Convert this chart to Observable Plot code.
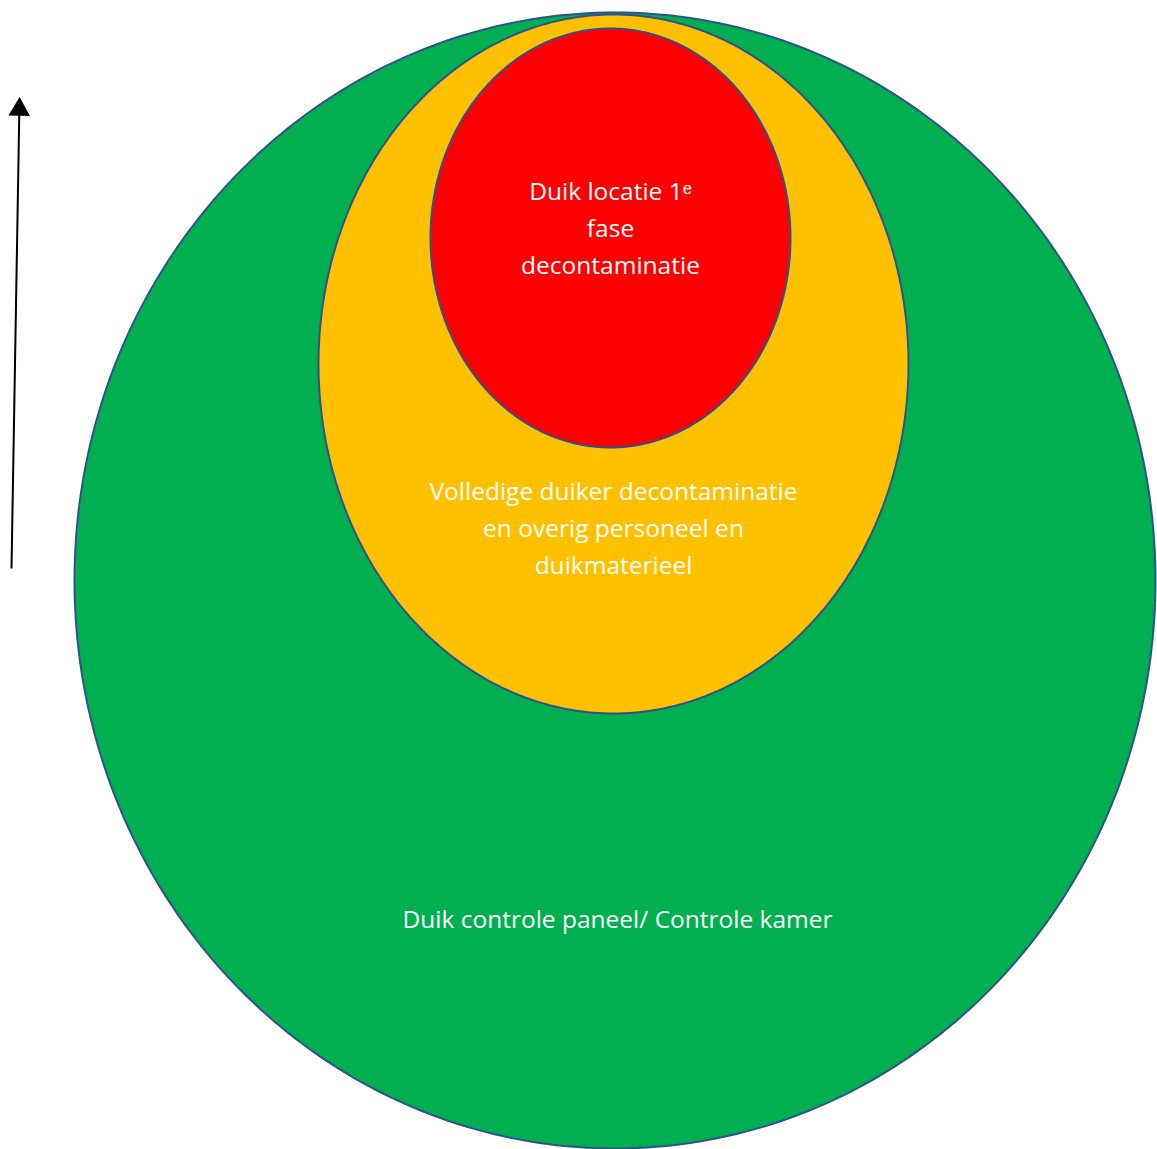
<!DOCTYPE html>
<html>
<head>
<meta charset="utf-8">
<script src="https://cdn.jsdelivr.net/npm/d3@7"></script>
<script src="https://cdn.jsdelivr.net/npm/@observablehq/plot@0.6"></script>
<style>
  html, body { margin: 0; padding: 0; background: #fff; }
  #chart svg { display: block; overflow: hidden; }
  #chart text { font-variant-ligatures: none; }
</style>
</head>
<body>
<div id="chart"></div>
<script>
// Zones (outer to inner)
const zoneNames = ["controle", "volledig", "locatie"];
const zoneLabels = [
  "Duik controle paneel/ Controle kamer",
  "Volledige duiker decontaminatie\nen overig personeel en\nduikmaterieel",
  "Duik locatie 1ᵉ\nfase\ndecontaminatie"
];
const zoneColors = ["#00B050", "#FFC000", "#FF0000"];
// ellipse geometry in picture units: centre x, centre y, radius x, radius y
const zoneCx = [614.5, 613, 610];
const zoneCy = [580, 363.5, 237.5];
const zoneRx = [540.5, 295, 180];
const zoneRy = [568, 349.5, 209.5];
// label anchor (middle line) per zone
const labelX = [617, 613, 610];
const labelY = [916, 525, 225];
// arrow (importance direction)
const arrowFrom = [11, 568];
const arrowTo = [19, 100];

const W = 1157, H = 1149;

const outline = [];
zoneNames.forEach((z, i) => {
  const n = 360;
  for (let k = 0; k < n; k++) {
    const t = (2 * Math.PI * k) / n;
    outline.push({zone: z, x: zoneCx[i] + zoneRx[i] * Math.cos(t), y: zoneCy[i] + zoneRy[i] * Math.sin(t)});
  }
});

const labels = zoneNames.map((z, i) => ({zone: z, text: zoneLabels[i], x: labelX[i], y: labelY[i]}));

// arrow head: filled triangle just below the tip, oriented along the shaft
const dx = arrowTo[0] - arrowFrom[0], dy = arrowTo[1] - arrowFrom[1];
const len = Math.hypot(dx, dy);
const headBack = 9;
const head = [{x: arrowTo[0] - dx / len * headBack, y: arrowTo[1] - dy / len * headBack}];
const headAngle = Math.atan2(dx, -dy) * 180 / Math.PI;
const shaftEnd = [{x1: arrowFrom[0], y1: arrowFrom[1], x2: arrowTo[0] - dx / len * 12, y2: arrowTo[1] - dy / len * 12}];

const chart = Plot.plot({
  width: W,
  height: H,
  margin: 0,
  x: {domain: [0, W], range: [0, W], axis: null},
  y: {domain: [0, H], range: [0, H], axis: null},
  color: {domain: zoneNames, range: zoneColors},
  marks: [
    Plot.line(outline, {x: "x", y: "y", z: "zone", fill: "zone", stroke: "#2F528F", strokeWidth: 2, curve: "linear-closed"}),
    Plot.text(labels, {x: "x", y: "y", text: "text", fill: "white", fontSize: 24.5, fontFamily: "'Open Sans', sans-serif", lineHeight: 1.51, lineAnchor: "middle", textAnchor: "middle"}),
    Plot.link(shaftEnd, {x1: "x1", y1: "y1", x2: "x2", y2: "y2", stroke: "black", strokeWidth: 2}),
    Plot.dot(head, {x: "x", y: "y", symbol: "triangle", fill: "black", stroke: "none", r: 8, rotate: headAngle})
  ]
});
document.getElementById("chart").appendChild(chart);
</script>
</body>
</html>
